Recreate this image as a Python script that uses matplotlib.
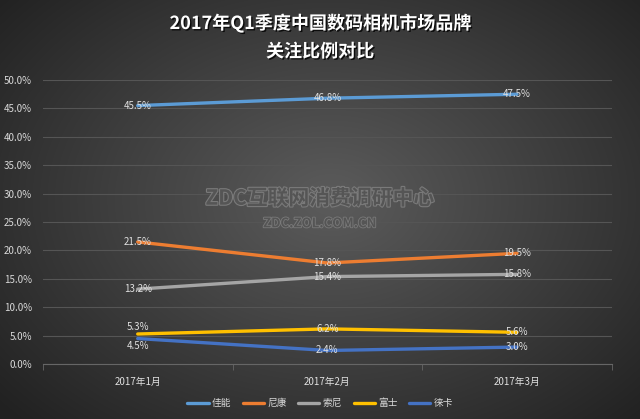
import numpy as np
import matplotlib.pyplot as plt
from matplotlib import patheffects as pe

plt.rcParams['font.family'] = ['Noto Sans CJK SC', 'DejaVu Sans']

months = ["2017年1月", "2017年2月", "2017年3月"]
brands = ["佳能", "尼康", "索尼", "富士", "徕卡"]
canon = [45.5, 46.8, 47.5]
nikon = [21.5, 17.8, 19.5]
sony = [13.2, 15.4, 15.8]
fuji = [5.3, 6.2, 5.6]
leica = [4.5, 2.4, 3.0]
series = [canon, nikon, sony, fuji, leica]
colors = ["#5B9BD5", "#ED7D31", "#A5A5A5", "#FFC000", "#4472C4"]

fig = plt.figure(figsize=(6.4, 4.19), dpi=100)

# dark radial background
bg = fig.add_axes([0, 0, 1, 1], zorder=-10)
yy, xx = np.mgrid[0:419, 0:640]
r = np.sqrt(((xx - 330) / 420.0) ** 2 + ((yy - 200) / 300.0) ** 2)
shade = np.clip(0.36 - 0.22 * r, 0.13, 0.36)
bg.imshow(np.dstack([shade] * 3), aspect='auto', extent=[0, 1, 0, 1])
bg.axis("off")

ax = fig.add_axes([0.067, 0.131, 0.889, 0.678])
ax.patch.set_alpha(0)
x = np.arange(len(months))
for vals, c, name in zip(series, colors, brands):
    ax.plot(x, vals, color=c, lw=2.4, label=name, solid_capstyle='round', zorder=3)

lab_kw = dict(color="#e0e0e0", fontsize=7, ha="center", va="center", zorder=4)
for vals in [canon, nikon, sony]:
    for i, v in enumerate(vals):
        ax.text(i, v, f"{v:.1f}%", **lab_kw)
for i, v in enumerate(fuji):
    ax.text(i, v + (1.3 if i == 0 else 0), f"{v:.1f}%", **lab_kw)
for i, v in enumerate(leica):
    ax.text(i, v - (1.3 if i == 0 else 0), f"{v:.1f}%", **lab_kw)

ax.set_xlim(-0.5, 2.5)
ax.set_ylim(0, 50)
ax.set_yticks(np.arange(0, 51, 5))
ax.set_yticklabels([f"{t:.1f}%" for t in np.arange(0, 51, 5)])
ax.set_xticks(x)
ax.set_xticklabels(months)
ax.set_xticks([-0.5, 0.5, 1.5, 2.5], minor=True)
ax.tick_params(axis='x', which='major', length=0, colors="#e0e0e0", labelsize=7, pad=9)
ax.tick_params(axis='x', which='minor', length=4, color="#666666")
ax.tick_params(axis='y', length=0, colors="#d9d9d9", labelsize=7, pad=8)
ax.grid(axis='y', color="#555555", lw=0.8)
for s in ["top", "right", "left"]:
    ax.spines[s].set_visible(False)
ax.spines["bottom"].set_color("#666666")

# title
shadow = [pe.withSimplePatchShadow(offset=(1, -1), shadow_rgbFace='black', alpha=0.8)]
fig.text(0.5, 0.945, "2017年Q1季度中国数码相机市场品牌", ha="center", va="center",
         fontsize=13, fontweight="bold", color="white", path_effects=shadow)
fig.text(0.5, 0.877, "关注比例对比", ha="center", va="center",
         fontsize=13, fontweight="bold", color="white", path_effects=shadow)

# watermark
fig.text(0.5, 0.527, "ZDC互联网消费调研中心", ha="center", va="center", fontsize=15,
         fontweight="bold", color="#555555",
         path_effects=[pe.withStroke(linewidth=1.6, foreground="#7a7a7a")])
fig.text(0.5, 0.467, "ZDC.ZOL.COM.CN", ha="center", va="center", fontsize=9.5,
         fontweight="bold", color="#555555",
         path_effects=[pe.withStroke(linewidth=1.2, foreground="#7a7a7a")])

leg = ax.legend(loc="center", ncol=5, frameon=False, fontsize=7, handlelength=2.2,
                columnspacing=1.2, handletextpad=0.3, labelcolor="#d9d9d9")
leg.set_bbox_to_anchor((0.5, 0.038), transform=fig.transFigure)

fig.savefig("out.png", dpi=100)
